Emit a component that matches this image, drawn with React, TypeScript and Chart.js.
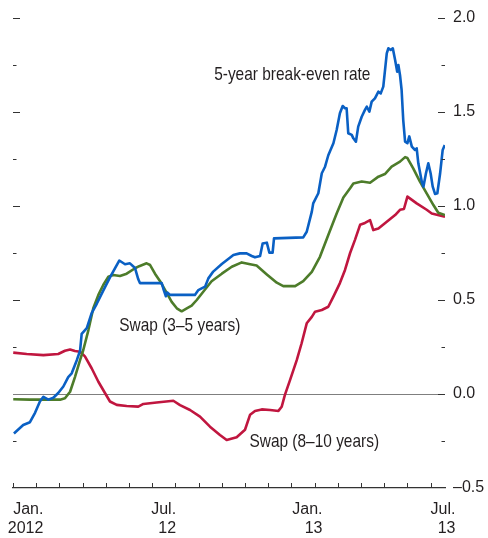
import { useEffect, useRef } from 'react';
import { Chart, registerables } from 'chart.js';

Chart.register(...registerables);

// x = months since 1 Jan 2012
const breakEvenMonths = [0.04, 0.44, 0.73, 0.95, 1.16, 1.31, 1.52, 1.74, 1.95, 2.17, 2.38, 2.53, 2.75, 2.89, 2.96, 3.18, 3.39, 3.61, 3.89, 4.18, 4.4, 4.58, 4.83, 5.04, 5.26, 5.4, 5.47, 5.91, 6.41, 6.48, 6.59, 6.65, 6.77, 7.2, 7.84, 7.99, 8.13, 8.28, 8.42, 8.63, 9.0, 9.5, 9.78, 10.07, 10.29, 10.43, 10.65, 10.76, 10.94, 11.05, 11.19, 11.25, 12.51, 12.66, 12.88, 12.94, 13.16, 13.31, 13.45, 13.59, 13.81, 13.95, 14.09, 14.21, 14.31, 14.38, 14.45, 14.6, 14.67, 14.78, 14.88, 15.03, 15.17, 15.25, 15.36, 15.46, 15.6, 15.75, 15.85, 15.96, 16.11, 16.18, 16.28, 16.37, 16.47, 16.56, 16.61, 16.68, 16.75, 16.82, 16.9, 17.0, 17.08, 17.19, 17.33, 17.4, 17.47, 17.62, 17.69, 17.8, 17.9, 18.0, 18.09, 18.19, 18.29, 18.41, 18.52, 18.61];
const breakEvenValues = [-0.21, -0.165, -0.15, -0.1, -0.04, -0.015, -0.03, -0.02, 0.005, 0.04, 0.09, 0.11, 0.18, 0.23, 0.32, 0.35, 0.43, 0.48, 0.55, 0.62, 0.67, 0.71, 0.69, 0.695, 0.67, 0.61, 0.59, 0.59, 0.59, 0.56, 0.52, 0.54, 0.527, 0.527, 0.527, 0.553, 0.562, 0.571, 0.615, 0.651, 0.691, 0.739, 0.748, 0.748, 0.734, 0.727, 0.734, 0.8, 0.805, 0.752, 0.752, 0.828, 0.833, 0.863, 0.97, 1.014, 1.068, 1.174, 1.209, 1.27, 1.334, 1.404, 1.493, 1.532, 1.52, 1.52, 1.387, 1.378, 1.36, 1.342, 1.422, 1.475, 1.511, 1.528, 1.502, 1.555, 1.573, 1.608, 1.599, 1.635, 1.812, 1.839, 1.83, 1.839, 1.777, 1.714, 1.75, 1.697, 1.617, 1.457, 1.342, 1.334, 1.37, 1.316, 1.298, 1.307, 1.227, 1.129, 1.103, 1.174, 1.227, 1.174, 1.103, 1.064, 1.068, 1.174, 1.298, 1.324];

const swap35Months = [0.01, 0.73, 1.31, 2.03, 2.24, 2.46, 2.67, 2.89, 3.03, 3.25, 3.46, 3.68, 3.89, 4.11, 4.32, 4.61, 4.9, 5.26, 5.44, 5.76, 5.91, 6.12, 6.34, 6.63, 6.84, 7.06, 7.27, 7.49, 7.7, 7.92, 8.2, 8.56, 9.0, 9.43, 9.86, 10.22, 10.5, 10.94, 11.37, 11.65, 12.16, 12.51, 12.88, 13.23, 13.59, 13.95, 14.24, 14.53, 14.67, 15.03, 15.39, 15.75, 16.03, 16.32, 16.68, 16.9, 17.0, 17.25, 17.54, 17.83, 18.12, 18.33, 18.62];
const swap35Values = [-0.028, -0.03, -0.03, -0.03, -0.023, 0.012, 0.09, 0.18, 0.234, 0.34, 0.456, 0.527, 0.58, 0.624, 0.633, 0.628, 0.64, 0.669, 0.68, 0.695, 0.686, 0.64, 0.6, 0.536, 0.49, 0.456, 0.44, 0.455, 0.47, 0.5, 0.544, 0.6, 0.64, 0.677, 0.7, 0.69, 0.683, 0.636, 0.592, 0.574, 0.574, 0.6, 0.65, 0.73, 0.846, 0.96, 1.045, 1.094, 1.12, 1.13, 1.124, 1.156, 1.17, 1.21, 1.236, 1.26, 1.255, 1.2, 1.13, 1.067, 1.005, 0.964, 0.952];

const swap810Months = [0.01, 0.59, 1.31, 1.95, 2.24, 2.46, 2.67, 2.89, 3.1, 3.39, 3.68, 3.97, 4.18, 4.47, 4.9, 5.4, 5.62, 6.19, 6.91, 7.2, 7.63, 8.06, 8.49, 8.92, 9.21, 9.64, 10.0, 10.22, 10.43, 10.72, 11.08, 11.44, 11.58, 11.72, 11.94, 12.23, 12.44, 12.66, 12.88, 13.02, 13.31, 13.59, 13.81, 14.09, 14.31, 14.53, 14.74, 14.96, 15.17, 15.39, 15.53, 15.75, 16.11, 16.47, 16.68, 16.85, 17.0, 17.4, 17.83, 18.05, 18.62];
const swap810Values = [0.22, 0.213, 0.207, 0.213, 0.23, 0.237, 0.229, 0.225, 0.2, 0.137, 0.065, 0.004, -0.04, -0.058, -0.064, -0.067, -0.053, -0.045, -0.036, -0.059, -0.085, -0.12, -0.174, -0.218, -0.245, -0.23, -0.19, -0.11, -0.09, -0.082, -0.085, -0.09, -0.068, -0.005, 0.074, 0.18, 0.27, 0.376, 0.41, 0.438, 0.447, 0.464, 0.518, 0.59, 0.66, 0.75, 0.82, 0.9, 0.91, 0.925, 0.872, 0.88, 0.916, 0.952, 0.98, 0.984, 1.05, 1.014, 0.98, 0.96, 0.943];

const xTickPositions = [1.31, 7.03, 13.34, 19.07];
const xTickLabels = [['Jan.', '2012'], ['Jul.', '12'], ['Jan.', '13'], ['Jul.', '13']];
const monthTicks = Array.from({ length: 19 }, (_, i) => i);

const seriesNames = ['5-year break-even rate', 'Swap (3–5 years)', 'Swap (8–10 years)'];
const seriesColors = ['#0a60c4', '#4d7c2a', '#c0163f'];
// annotation anchors in data coordinates (months, percent)
const labelX = [8.67, 4.58, 10.19];
const labelY = [1.67, 0.335, -0.28];

const TEXT = '#231f20';
const AXIS_FONT = "'Liberation Sans', Arial, sans-serif";
const NOTE_FONT = "'Liberation Sans', Arial, sans-serif";

const toPoints = (xs: number[], ys: number[]) => xs.map((x, i) => ({ x, y: ys[i] }));

const decorPlugin = {
  id: 'decor',
  afterDatasetsDraw(chart: any) {
    const { ctx, chartArea, scales } = chart;
    const xs = scales.x;
    const ys = scales.y;
    ctx.save();
    ctx.strokeStyle = '#333';
    ctx.lineWidth = 1;
    // inward y ticks on both edges
    ys.ticks.forEach((t: any) => {
      const v = t.value;
      if (v <= -0.5) return;
      const major = Math.abs((v * 2) - Math.round(v * 2)) < 1e-6;
      const len = major ? 7 : 3.5;
      const py = Math.round(ys.getPixelForValue(v)) + 0.5;
      if (Math.abs(v) > 1e-9) {
        ctx.beginPath();
        ctx.moveTo(chartArea.left, py);
        ctx.lineTo(chartArea.left + len, py);
        ctx.stroke();
      }
      ctx.beginPath();
      ctx.moveTo(chartArea.right, py);
      ctx.lineTo(chartArea.right - len, py);
      ctx.stroke();
    });
    // monthly ticks, upward from the x axis
    monthTicks.forEach((m) => {
      const px = Math.round(xs.getPixelForValue(m)) + 0.5;
      ctx.beginPath();
      ctx.moveTo(px, chartArea.bottom);
      ctx.lineTo(px, chartArea.bottom - 5);
      ctx.stroke();
    });
    // series annotations (condensed face emulated by horizontal scaling)
    ctx.fillStyle = TEXT;
    ctx.font = `18.5px ${NOTE_FONT}`;
    ctx.textAlign = 'left';
    ctx.textBaseline = 'alphabetic';
    seriesNames.forEach((name, i) => {
      ctx.save();
      ctx.translate(xs.getPixelForValue(labelX[i]), ys.getPixelForValue(labelY[i]));
      ctx.scale(0.835, 1);
      ctx.fillText(name, 0, 0);
      ctx.restore();
    });
    ctx.restore();
  },
};

export default function App() {
  const ref = useRef<HTMLCanvasElement>(null);
  useEffect(() => {
    const chart = new Chart(ref.current as HTMLCanvasElement, {
      type: 'line',
      data: {
        datasets: [
          { label: seriesNames[0], data: toPoints(breakEvenMonths, breakEvenValues), borderColor: seriesColors[0] },
          { label: seriesNames[1], data: toPoints(swap35Months, swap35Values), borderColor: seriesColors[1] },
          { label: seriesNames[2], data: toPoints(swap810Months, swap810Values), borderColor: seriesColors[2] },
        ].map((d) => ({ ...d, borderWidth: 2.6, pointRadius: 0, tension: 0, borderJoinStyle: 'round' as const, fill: false })),
      },
      options: {
        animation: false,
        responsive: false,
        events: [],
        layout: { padding: { left: 13, top: 18, right: 0, bottom: 0 } },
        plugins: { legend: { display: false }, tooltip: { enabled: false } },
        scales: {
          x: {
            type: 'linear',
            min: 0,
            max: 18.62,
            grid: { display: false, drawTicks: false },
            border: { display: true, color: '#333', width: 1.3 },
            afterBuildTicks: (scale: any) => {
              scale.ticks = xTickPositions.map((v) => ({ value: v }));
            },
            afterFit: (scale: any) => {
              scale.height = 50;
              scale.paddingLeft = 0;
              scale.paddingRight = 0;
            },
            ticks: {
              autoSkip: false,
              maxRotation: 0,
              minRotation: 0,
              align: 'end',
              padding: 12,
              color: TEXT,
              font: { family: AXIS_FONT, size: 16, lineHeight: 1.2 },
              callback: (value: any) => {
                const i = xTickPositions.findIndex((v) => Math.abs(v - Number(value)) < 1e-6);
                return i >= 0 ? xTickLabels[i] : '';
              },
            },
          },
          y: {
            type: 'linear',
            position: 'right',
            min: -0.5,
            max: 2.0,
            grid: {
              drawTicks: false,
              lineWidth: 1,
              color: (c: any) => (c.tick && Math.abs(c.tick.value) < 1e-9 ? '#7f7f7f' : 'rgba(0,0,0,0)'),
            },
            border: { display: false },
            afterFit: (scale: any) => {
              scale.width = 43;
              scale.paddingTop = 0;
              scale.paddingBottom = 0;
            },
            ticks: {
              stepSize: 0.25,
              padding: 8,
              color: TEXT,
              font: { family: AXIS_FONT, size: 16 },
              callback: (value: any) => {
                const v = Number(value);
                if (Math.abs(v * 2 - Math.round(v * 2)) > 1e-6) return '';
                return v < 0 ? '–' + Math.abs(v).toFixed(1) : v.toFixed(1);
              },
            },
          },
        },
      },
      plugins: [decorPlugin],
    });
    return () => chart.destroy();
  }, []);
  return (
    <div style={{ position: 'absolute', left: 0, top: 0, width: 488, height: 538, background: '#fff' }}>
      <canvas ref={ref} width={488} height={538} style={{ display: 'block' }} />
    </div>
  );
}
